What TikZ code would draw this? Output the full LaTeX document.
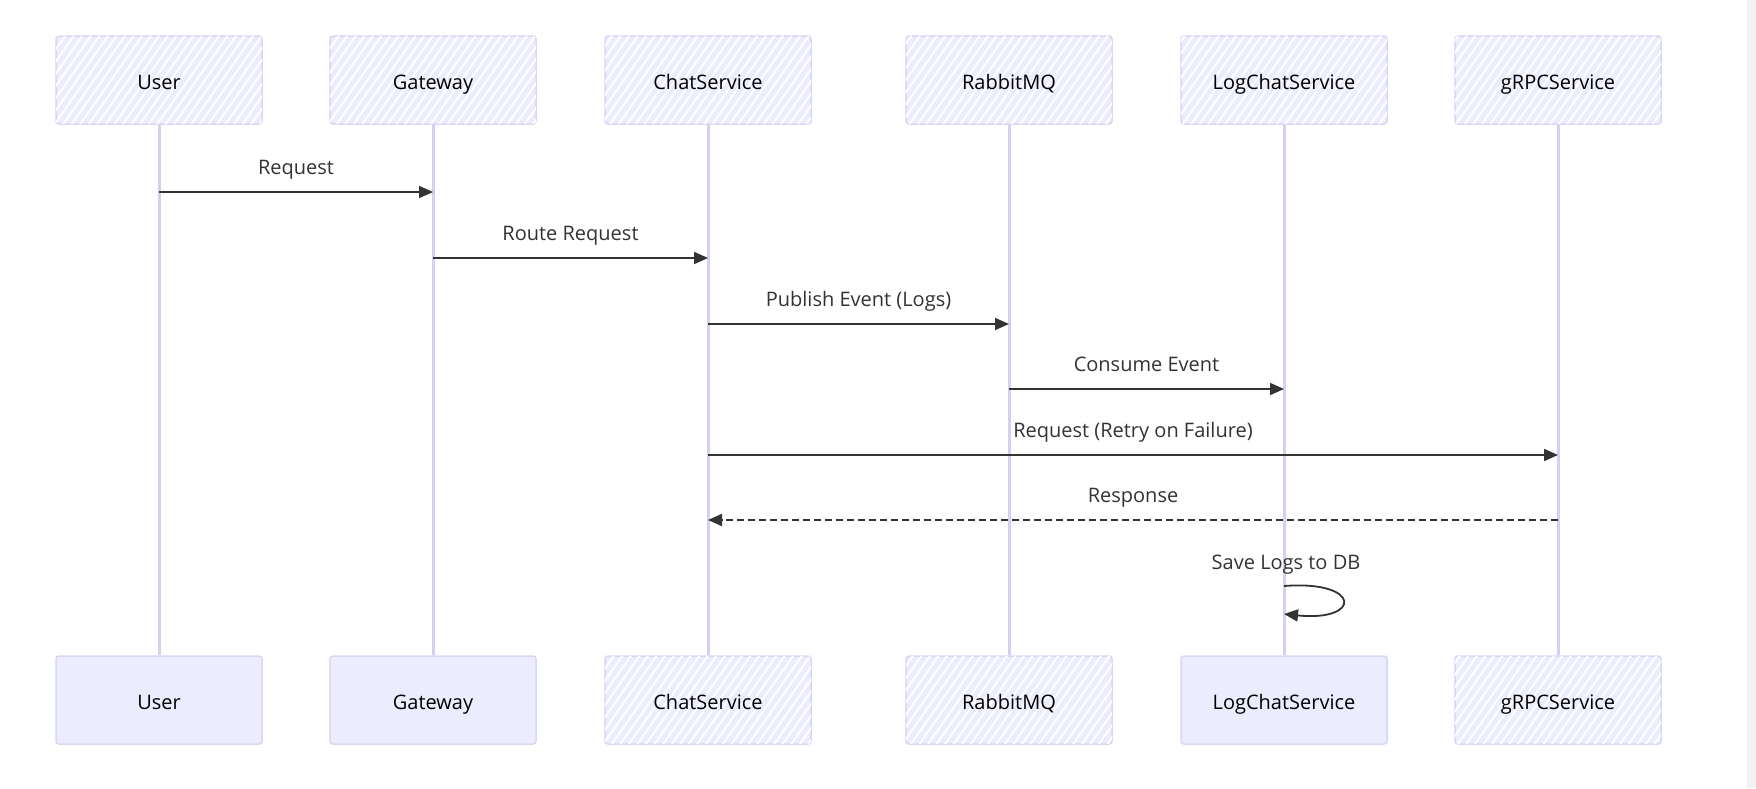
\documentclass[tikz,border=0pt]{standalone}
\usepackage{fontspec}
\setmainfont{Open Sans}
\usetikzlibrary{arrows.meta,patterns.meta}
\definecolor{lav1}{HTML}{ECECFF}
\definecolor{lav2}{HTML}{D9D5F5}
\definecolor{lav3}{HTML}{D4D0F2}
\definecolor{ink1}{HTML}{333333}
\definecolor{grey1}{HTML}{F2F2F2}

\begin{document}
\begin{tikzpicture}[x=1pt, y=-1pt,
  actor/.style={draw=lav2, line width=1.5pt, rounded corners=3pt, fill=lav1,
    minimum width=206pt, minimum height=88pt, inner sep=0pt,
    text height=20pt, text depth=1pt, text=black,
    font=\fontsize{20}{24}\selectfont},
  hatch/.style={postaction={pattern={Lines[angle=55,distance=7pt,line width=2pt]}, pattern color=white}},
  life/.style={draw=lav3, line width=3pt},
  msg/.style={draw=ink1, line width=1.8pt, -{Triangle[length=14pt,width=12pt]}},
  reply/.style={msg, dash pattern=on 7pt off 4pt},
  lbl/.style={text=ink1, anchor=base, font=\fontsize{20}{24}\selectfont}]
\fill[white] (0,0) rectangle (1756,788);
\useasboundingbox (0,0) rectangle (1756,788);
\fill[grey1] (1747,0) rectangle (1756,788);

\node[actor, hatch] (userTop) at (159,80) {User};
\node[actor, hatch] (gateTop) at (433,80) {Gateway};
\node[actor, hatch] (chatTop) at (708,80) {ChatService};
\node[actor, hatch] (rabbitTop) at (1009,80) {RabbitMQ};
\node[actor, hatch] (logTop) at (1284,80) {LogChatService};
\node[actor, hatch] (grpcTop) at (1558,80) {gRPCService};

\node[actor] (userBot) at (159,700) {User};
\node[actor] (gateBot) at (433,700) {Gateway};
\node[actor, hatch] (chatBot) at (708,700) {ChatService};
\node[actor, hatch] (rabbitBot) at (1009,700) {RabbitMQ};
\node[actor] (logBot) at (1284,700) {LogChatService};
\node[actor, hatch] (grpcBot) at (1558,700) {gRPCService};

\draw[life] (userTop) -- (userBot);
\draw[life] (gateTop) -- (gateBot);
\draw[life] (chatTop) -- (chatBot);
\draw[life] (rabbitTop) -- (rabbitBot);
\draw[life] (logTop) -- (logBot);
\draw[life] (grpcTop) -- (grpcBot);

\draw[msg] (userTop |- 0,192) -- (gateTop |- 0,192) node[lbl, midway, yshift=18pt] {Request};
\draw[msg] (gateTop |- 0,258) -- (chatTop |- 0,258) node[lbl, midway, yshift=18pt] {Route Request};
\draw[msg] (chatTop |- 0,324) -- (rabbitTop |- 0,324) node[lbl, midway, yshift=18pt] {Publish Event (Logs)};
\draw[msg] (rabbitTop |- 0,389) -- (logTop |- 0,389) node[lbl, midway, yshift=18pt] {Consume Event};
\draw[msg] (chatTop |- 0,455) -- (grpcTop |- 0,455) node[lbl, midway, yshift=18pt] {Request (Retry on Failure)};
\draw[reply] (grpcTop |- 0,520) -- (chatTop |- 0,520) node[lbl, midway, yshift=18pt] {Response};

\draw[msg] (logTop |- 0,586) .. controls (1362,580) and (1362,622) .. (logTop |- 0,614);
\node[lbl] (saveLbl) at (1286,569) {Save Logs to DB};
\end{tikzpicture}
\end{document}
